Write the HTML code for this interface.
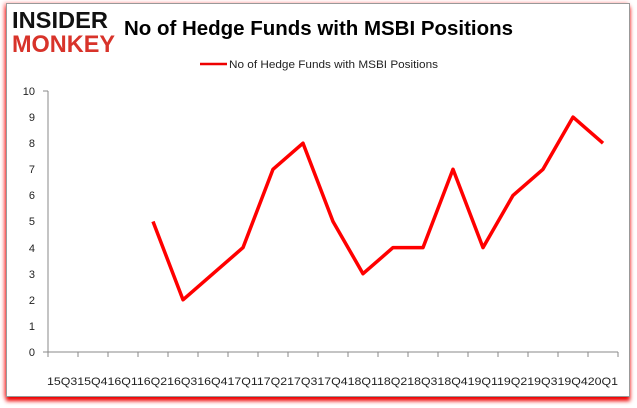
<!DOCTYPE html>
<html><head><style>
body{margin:0;width:637px;height:408px;background:#fff;font-family:"Liberation Sans",sans-serif;position:relative;overflow:hidden}
.frame{position:absolute;left:6px;top:3px;width:622px;height:392px;border:1px solid #999;background:#fff;box-shadow:0 4px 4px #e00,-2px 0 4px #f99}
</style></head><body>
<div class="frame"></div>
<svg width="637" height="408" style="position:absolute;left:0;top:0" font-family="Liberation Sans, sans-serif">
<text x="12" y="28" font-size="23" font-weight="bold" fill="#111" textLength="96" lengthAdjust="spacingAndGlyphs">INSIDER</text>
<text x="12" y="52" font-size="24" font-weight="bold" fill="#d8332a" textLength="103" lengthAdjust="spacingAndGlyphs">MONKEY</text>
<text x="124" y="35" font-size="20" font-weight="bold" fill="#000" textLength="389" lengthAdjust="spacingAndGlyphs">No of Hedge Funds with MSBI Positions</text>
<line x1="200" y1="64" x2="227" y2="64" stroke="#e00" stroke-width="2.5"/>
<text x="229" y="68" font-size="11" fill="#222" textLength="209" lengthAdjust="spacingAndGlyphs">No of Hedge Funds with MSBI Positions</text>
<g font-size="11" fill="#222" text-anchor="end">
<text x="35" y="95">10</text><text x="35" y="121">9</text><text x="35" y="147">8</text><text x="35" y="173">7</text><text x="35" y="199">6</text><text x="35" y="225">5</text><text x="35" y="252">4</text><text x="35" y="278">3</text><text x="35" y="304">2</text><text x="35" y="330">1</text><text x="35" y="356">0</text>
</g>
<g stroke="#888" stroke-width="1">
<line x1="48" y1="91" x2="48" y2="352"/>
<line x1="43" y1="91" x2="48" y2="91"/>
<line x1="48" y1="352" x2="618" y2="352"/>
<line x1="43" y1="352" x2="48" y2="352"/>
<line x1="48" y1="352" x2="48" y2="357"/><line x1="78" y1="352" x2="78" y2="357"/><line x1="108" y1="352" x2="108" y2="357"/><line x1="138" y1="352" x2="138" y2="357"/><line x1="168" y1="352" x2="168" y2="357"/><line x1="198" y1="352" x2="198" y2="357"/><line x1="228" y1="352" x2="228" y2="357"/><line x1="258" y1="352" x2="258" y2="357"/><line x1="288" y1="352" x2="288" y2="357"/><line x1="318" y1="352" x2="318" y2="357"/><line x1="348" y1="352" x2="348" y2="357"/><line x1="378" y1="352" x2="378" y2="357"/><line x1="408" y1="352" x2="408" y2="357"/><line x1="438" y1="352" x2="438" y2="357"/><line x1="468" y1="352" x2="468" y2="357"/><line x1="498" y1="352" x2="498" y2="357"/><line x1="528" y1="352" x2="528" y2="357"/><line x1="558" y1="352" x2="558" y2="357"/><line x1="588" y1="352" x2="588" y2="357"/><line x1="618" y1="352" x2="618" y2="357"/>
</g>
<text x="47" y="385" font-size="11" fill="#222" textLength="571" lengthAdjust="spacingAndGlyphs">15Q315Q416Q116Q216Q316Q417Q117Q217Q317Q418Q118Q218Q318Q419Q119Q219Q319Q420Q1</text>
<polyline fill="none" stroke="#f00" stroke-width="3.5" stroke-linejoin="round" points="153,221.5 183,299.8 213,273.7 243,247.6 273,169.3 303,143.2 333,221.5 363,273.7 393,247.6 423,247.6 453,169.3 483,247.6 513,195.4 543,169.3 573,117.1 603,143.2"/>
</svg>
</body></html>
